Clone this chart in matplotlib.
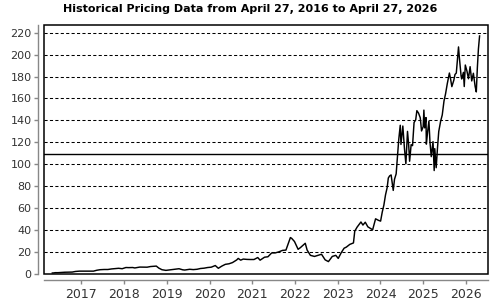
import matplotlib
matplotlib.use('Agg')
import matplotlib.pyplot as plt
import matplotlib.dates as mdates
from matplotlib.patches import Rectangle
import pandas as pd

# price series (split adjusted)
early_dates = [
    "2016-04-27", "2016-05-13", "2016-05-20", "2016-06-15", "2016-07-15", "2016-08-12", "2016-09-15",
    "2016-10-14", "2016-11-11", "2016-12-15", "2017-01-13", "2017-02-15", "2017-03-15",
    "2017-04-14", "2017-05-12", "2017-06-09", "2017-07-14", "2017-08-15", "2017-09-15",
    "2017-10-16", "2017-11-15", "2017-12-15", "2018-01-16", "2018-02-09", "2018-03-15",
    "2018-04-02", "2018-05-15", "2018-06-15", "2018-07-16", "2018-08-15", "2018-09-14",
    "2018-10-03", "2018-10-24", "2018-11-20", "2018-12-24", "2019-01-15", "2019-02-15",
    "2019-03-15", "2019-04-15", "2019-05-17", "2019-06-03", "2019-07-15", "2019-08-15",
    "2019-09-16", "2019-10-15", "2019-11-15", "2019-12-16", "2020-01-15", "2020-02-19",
    "2020-03-16", "2020-04-15", "2020-05-15", "2020-06-15", "2020-07-15", "2020-08-20",
    "2020-09-02", "2020-09-23", "2020-10-15", "2020-11-16", "2020-12-15", "2021-01-15",
    "2021-02-16", "2021-03-08", "2021-04-15", "2021-05-14", "2021-06-15", "2021-07-15",
    "2021-08-16", "2021-09-15", "2021-10-15", "2021-11-22", "2021-12-03", "2021-12-27",
    "2022-01-27", "2022-02-15", "2022-03-29", "2022-04-14", "2022-05-12", "2022-06-16",
    "2022-07-15", "2022-08-15", "2022-09-15", "2022-10-13", "2022-11-15", "2022-12-15",
    "2023-01-05", "2023-01-31", "2023-02-24", "2023-03-15", "2023-04-14", "2023-05-15",
    "2023-05-26", "2023-06-15", "2023-07-18", "2023-08-04", "2023-08-24", "2023-09-15",
    "2023-10-26", "2023-11-20", "2023-12-15",
]
early_prices = [
    0.9, 1.0, 1.2, 1.2, 1.45, 1.6, 1.7,
    1.75, 2.3, 2.6, 2.6, 2.7, 2.5,
    2.6, 3.4, 3.9, 4.1, 4.1, 4.6,
    4.9, 5.2, 4.8, 5.9, 5.8, 5.9,
    5.5, 6.3, 6.3, 6.2, 6.8, 7.1,
    7.2, 5.4, 3.9, 3.3, 3.6, 4.0,
    4.5, 4.8, 3.8, 3.6, 4.3, 4.0,
    4.3, 5.0, 5.3, 5.9, 6.2, 7.7,
    5.2, 7.2, 8.8, 9.3, 10.4, 12.8,
    14.2, 12.6, 13.6, 13.3, 13.2, 13.2,
    15.0, 12.6, 15.3, 15.7, 19.2, 19.2,
    20.2, 21.5, 21.8, 33.2, 32.5, 29.6,
    22.5, 24.0, 28.0, 21.8, 17.0, 16.0,
    17.0, 18.0, 12.9, 11.3, 16.0, 17.0,
    14.2, 19.5, 23.5, 24.5, 27.0, 28.3,
    39.0, 42.7, 47.4, 44.6, 47.2, 43.0,
    40.3, 50.3, 48.9,
]

late_dates = [
    "2024-01-02", "2024-01-16", "2024-01-30", "2024-02-13", "2024-02-27", "2024-03-08",
    "2024-03-19", "2024-04-01", "2024-04-19", "2024-04-30", "2024-05-14", "2024-05-23",
    "2024-06-05", "2024-06-18", "2024-06-24", "2024-07-10", "2024-07-24", "2024-08-05",
    "2024-08-19", "2024-08-29", "2024-09-06", "2024-09-19", "2024-10-01", "2024-10-14",
    "2024-10-28", "2024-11-07", "2024-11-21", "2024-12-06", "2024-12-17", "2024-12-31",
    "2025-01-06", "2025-01-13", "2025-01-24", "2025-01-27", "2025-02-07", "2025-02-18",
    "2025-02-27", "2025-03-10", "2025-03-25", "2025-04-04", "2025-04-09", "2025-04-21",
    "2025-05-02", "2025-05-13", "2025-05-29", "2025-06-12", "2025-06-27", "2025-07-10",
    "2025-07-25", "2025-08-12", "2025-08-22", "2025-09-02", "2025-09-19", "2025-09-29",
    "2025-10-10", "2025-10-29", "2025-11-04", "2025-11-20", "2025-11-25", "2025-12-10",
    "2025-12-17", "2025-12-26", "2026-01-09", "2026-01-22", "2026-02-05", "2026-02-19",
    "2026-03-05", "2026-03-20", "2026-03-30", "2026-04-08", "2026-04-17", "2026-04-27",
]
late_prices = [
    48.2, 56.4, 62.8, 72.1, 78.7, 87.5,
    89.4, 90.3, 76.2, 86.4, 91.3, 103.8,
    122.4, 135.6, 118.1, 134.9, 114.3, 100.5,
    130.0, 117.6, 102.8, 117.9, 117.0, 138.1,
    140.5, 148.9, 146.7, 142.4, 130.4, 134.3,
    149.4, 133.2, 142.6, 118.4, 129.8, 139.4,
    120.2, 107.0, 120.7, 94.3, 114.3, 96.9,
    114.5, 129.9, 139.2, 145.0, 157.8, 164.1,
    173.5, 183.2, 177.9, 170.8, 176.7, 181.9,
    183.2, 207.0, 198.7, 180.6, 177.8, 183.8,
    170.9, 190.5, 185.0, 178.0, 189.0, 176.0,
    183.0, 171.0, 166.0, 188.0, 205.0, 217.0,
]

ref_level = 109.6
y_ticks = list(range(0, 221, 20))
year_ticks = list(range(2017, 2027))
title = "Historical Pricing Data from April 27, 2016 to April 27, 2026"

dates = pd.to_datetime(early_dates + late_dates)
prices = early_prices + late_prices

fig = plt.figure(figsize=(5, 3), dpi=100)
ax = fig.add_axes([0.088, 0.0867, 0.888, 0.83])

gray = '#888888'
for side in ['top', 'right']:
    ax.spines[side].set_visible(False)
for side in ['left', 'bottom']:
    ax.spines[side].set_position(('outward', 4))
    ax.spines[side].set_color(gray)
    ax.spines[side].set_linewidth(1.0)

ax.add_patch(Rectangle((0, 0), 1, 1, transform=ax.transAxes, fill=False,
                       edgecolor='black', linewidth=1.1, clip_on=False, zorder=5))

for v in y_ticks[1:]:
    ax.axhline(v, color='black', linestyle=(0, (3, 2.2)), linewidth=0.75, zorder=1)
ax.axhline(ref_level, color='black', linewidth=1.0, zorder=2)

ax.plot(dates, prices, color='black', linewidth=1.05, zorder=3)

ax.set_ylim(0, 227)
ax.set_xlim(pd.Timestamp("2016-02-16"), pd.Timestamp("2026-07-08"))
ax.set_yticks(y_ticks)
ax.set_xticks([pd.Timestamp(f"{y}-01-01") for y in year_ticks])
ax.xaxis.set_major_formatter(mdates.DateFormatter('%Y'))
ax.tick_params(axis='both', colors=gray, length=3, width=1, labelcolor='#333333')
ax.tick_params(axis='y', labelsize=8, pad=2)
ax.tick_params(axis='x', labelsize=9, pad=3)

fig.suptitle(title, x=0.5, y=0.985, fontsize=8, fontweight='bold')

fig.savefig('out.png', dpi=100)
